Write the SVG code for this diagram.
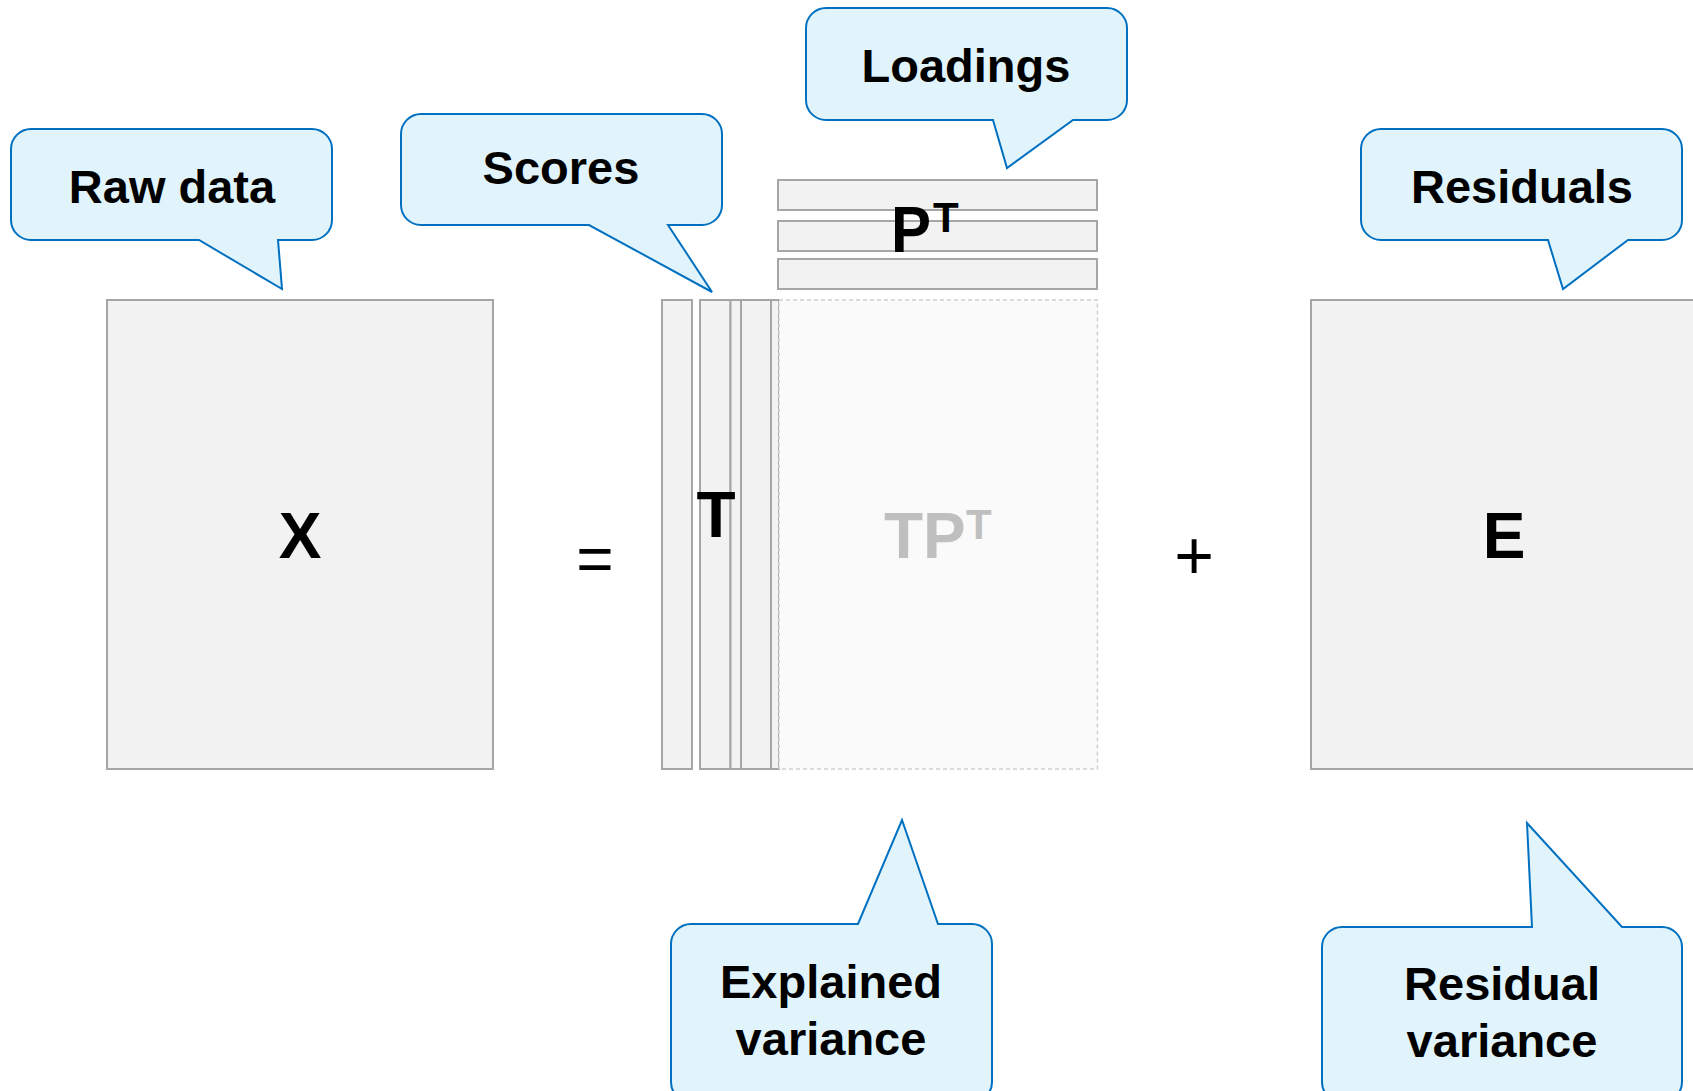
<svg xmlns="http://www.w3.org/2000/svg" width="1693" height="1091" viewBox="0 0 1693 1091">
<style>
.mat{fill:#f2f2f2;stroke:#a6a6a6;stroke-width:2}
.callout{fill:#e1f4fc;stroke:#0070c0;stroke-width:2;stroke-linejoin:miter}
.lbl{font-family:"Liberation Sans",Arial,sans-serif;font-weight:bold;font-size:47px;fill:#000;text-anchor:middle}
.big{font-family:"Liberation Sans",Arial,sans-serif;font-weight:bold;font-size:64px;fill:#000}
.sup{font-size:42px}
.ghost{fill:#bfbfbf}
.op{font-family:"Liberation Sans",Arial,sans-serif;font-size:64px;fill:#000;text-anchor:middle}
</style>
<rect width="1693" height="1091" fill="#ffffff"/>

<g id="X">
<rect class="mat" x="107" y="300" width="386" height="469"/>
<text class="big" x="300" y="558" text-anchor="middle">X</text>
</g>

<g id="equals"><text class="op" x="595" y="581">=</text></g>

<g id="T">
<rect class="mat" x="662" y="300" width="30" height="469"/>
<rect class="mat" x="711" y="300" width="68" height="469"/>
<rect class="mat" x="700" y="300" width="30.5" height="469"/>
<rect class="mat" x="730.5" y="300" width="10.5" height="469"/>
<rect class="mat" x="741" y="300" width="30" height="469"/>
<text class="big" x="716" y="537" text-anchor="middle">T</text>
</g>

<g id="PT">
<rect class="mat" x="778" y="180" width="319" height="30"/>
<rect class="mat" x="778" y="221" width="319" height="30"/>
<rect class="mat" x="778" y="259" width="319" height="30"/>
<text class="big" x="891" y="252" style="font-size:65px" textLength="40" lengthAdjust="spacingAndGlyphs">P</text>
<text class="big sup" x="933" y="232">T</text>
</g>

<g id="TPT">
<rect x="779" y="300" width="318.5" height="469" fill="#fafafa" stroke="#d0d0d0" stroke-width="1.5" stroke-dasharray="4 3"/>
<text class="big ghost" x="884" y="558">TP</text>
<text class="big sup ghost" x="966" y="539">T</text>
</g>

<g id="plus"><text class="op" x="1194" y="579" style="font-size:68px">+</text></g>

<g id="E">
<rect class="mat" x="1311" y="300" width="400" height="469"/>
<text class="big" x="1504" y="558" text-anchor="middle">E</text>
</g>

<g id="connectors">
<g id="raw-data">
<path class="callout" d="M31,129 H312 A20,20 0 0 1 332,149 V220 A20,20 0 0 1 312,240 H278 L282,289 L199,240 H31 A20,20 0 0 1 11,220 V149 A20,20 0 0 1 31,129 Z"/>
<text class="lbl" x="172" y="203">Raw data</text>
</g>
<g id="scores">
<path class="callout" d="M421,114 H702 A20,20 0 0 1 722,134 V205 A20,20 0 0 1 702,225 H668 L712,292 L589,225 H421 A20,20 0 0 1 401,205 V134 A20,20 0 0 1 421,114 Z"/>
<text class="lbl" x="561" y="184">Scores</text>
</g>
<g id="loadings">
<path class="callout" d="M826,8 H1107 A20,20 0 0 1 1127,28 V100 A20,20 0 0 1 1107,120 H1073 L1007,168 L993,120 H826 A20,20 0 0 1 806,100 V28 A20,20 0 0 1 826,8 Z"/>
<text class="lbl" x="966" y="82">Loadings</text>
</g>
<g id="residuals">
<path class="callout" d="M1381,129 H1662 A20,20 0 0 1 1682,149 V220 A20,20 0 0 1 1662,240 H1628 L1563,289 L1548,240 H1381 A20,20 0 0 1 1361,220 V149 A20,20 0 0 1 1381,129 Z"/>
<text class="lbl" x="1522" y="203">Residuals</text>
</g>
<g id="explained-variance">
<path class="callout" d="M691,924 H858 L902,820 L938,924 H972 A20,20 0 0 1 992,944 V1082 A20,20 0 0 1 972,1102 H691 A20,20 0 0 1 671,1082 V944 A20,20 0 0 1 691,924 Z"/>
<text class="lbl" x="831" y="998">Explained</text>
<text class="lbl" x="831" y="1055">variance</text>
</g>
<g id="residual-variance">
<path class="callout" d="M1342,927 H1532 L1527,823 L1622,927 H1662 A20,20 0 0 1 1682,947 V1082 A20,20 0 0 1 1662,1102 H1342 A20,20 0 0 1 1322,1082 V947 A20,20 0 0 1 1342,927 Z"/>
<text class="lbl" x="1502" y="1000">Residual</text>
<text class="lbl" x="1502" y="1057">variance</text>
</g>
</g>
</svg>
